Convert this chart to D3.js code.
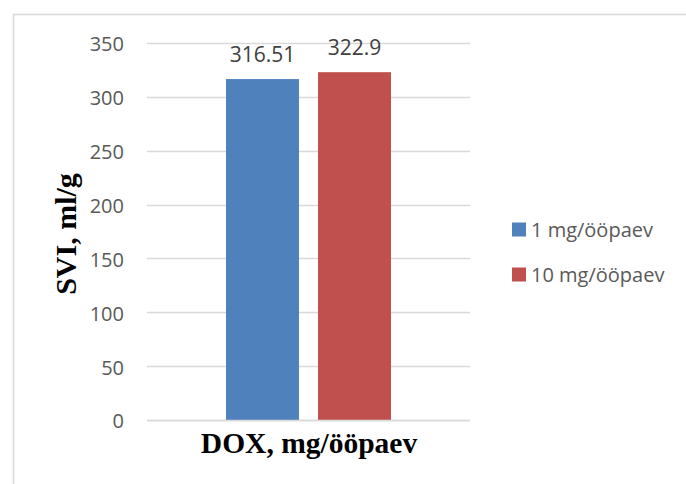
<!DOCTYPE html>
<html>
<head>
<meta charset="utf-8">
<script src="https://cdn.jsdelivr.net/npm/d3@7/dist/d3.min.js"></script>
<style>
  html, body { margin: 0; padding: 0; background: #fff; }
  svg { display: block; }
</style>
</head>
<body>
<svg id="chart" width="686" height="484"></svg>
<script>
// Sludge volume index by DOX dose
const categories = ["DOX, mg/ööpaev"];
const seriesNames = ["1 mg/ööpaev", "10 mg/ööpaev"];
const seriesColors = ["#4f81bd", "#c0504d"];
const seriesValues = [316.51, 322.9];
const yTicks = [0, 50, 100, 150, 200, 250, 300, 350];

const svg = d3.select("#chart");
const W = 686, H = 484;
const sans = "'Open Sans', 'Noto Sans', sans-serif";
const serif = "'Liberation Serif', 'Times New Roman', serif";

// outer chart frame
svg.append("rect")
  .attr("x", 13.5).attr("y", 14.5)
  .attr("width", W).attr("height", H)
  .attr("fill", "#fff").attr("stroke", "#d9d9d9").attr("stroke-width", 1.5);

const plot = { left: 147, right: 470, top: 43, bottom: 420 };

const y = d3.scaleLinear().domain([0, 350]).range([plot.bottom, plot.top]);
const x0 = d3.scaleBand().domain(categories).range([plot.left, plot.right]).padding(0);
const x1 = d3.scaleBand().domain(seriesNames)
  .range([x0(categories[0]) + 79, x0(categories[0]) + x0.bandwidth() - 79])
  .paddingInner(0.207);

// gridlines
svg.append("g")
  .selectAll("line")
  .data(yTicks)
  .join("line")
  .attr("x1", plot.left).attr("x2", plot.right)
  .attr("y1", d => Math.round(y(d)) + 0.5).attr("y2", d => Math.round(y(d)) + 0.5)
  .attr("stroke", "#d9d9d9").attr("stroke-width", 1.3);

// y axis labels
const yAxis = d3.axisLeft(y).tickValues(yTicks).tickSize(0).tickPadding(0).tickFormat(d3.format("d"));
const yg = svg.append("g").attr("transform", `translate(124,1.5)`).call(yAxis);
yg.select(".domain").remove();
yg.selectAll("text")
  .attr("font-family", sans)
  .attr("font-size", 20).attr("fill", "#595959");

// bars with value labels
const bars = svg.append("g");
seriesNames.forEach((name, i) => {
  bars.append("rect")
    .attr("x", x1(name))
    .attr("y", y(seriesValues[i]))
    .attr("width", x1.bandwidth())
    .attr("height", y(0) - y(seriesValues[i]))
    .attr("fill", seriesColors[i]);
  bars.append("text")
    .attr("x", x1(name) + x1.bandwidth() / 2)
    .attr("y", y(seriesValues[i]) - 17.5)
    .attr("text-anchor", "middle")
    .attr("font-family", sans)
    .attr("font-size", 21).attr("fill", "#404040")
    .text(String(seriesValues[i]));
});

// baseline over bars
svg.append("line")
  .attr("x1", plot.left).attr("x2", plot.right)
  .attr("y1", Math.round(y(0)) + 0.5).attr("y2", Math.round(y(0)) + 0.5)
  .attr("stroke", "#d9d9d9").attr("stroke-width", 1.3);

// axis titles
svg.append("text")
  .attr("x", 309)
  .attr("y", 453)
  .attr("text-anchor", "middle")
  .attr("font-family", serif)
  .attr("font-weight", "bold").attr("font-size", 29.5).attr("fill", "#000")
  .text(categories[0]);

svg.append("text")
  .attr("transform", "translate(76,234) rotate(-90)")
  .attr("text-anchor", "middle")
  .attr("font-family", serif)
  .attr("font-weight", "bold").attr("font-size", 30).attr("fill", "#000")
  .text("SVI, ml/g");

// legend
const legend = svg.append("g");
seriesNames.forEach((name, i) => {
  const base = 236.5 + i * 45;
  legend.append("rect")
    .attr("x", 512).attr("y", base - 14)
    .attr("width", 14).attr("height", 14)
    .attr("fill", seriesColors[i]);
  legend.append("text")
    .attr("x", 531).attr("y", base)
    .attr("font-family", sans)
    .attr("font-size", 20).attr("fill", "#595959")
    .text(name);
});
</script>
</body>
</html>
